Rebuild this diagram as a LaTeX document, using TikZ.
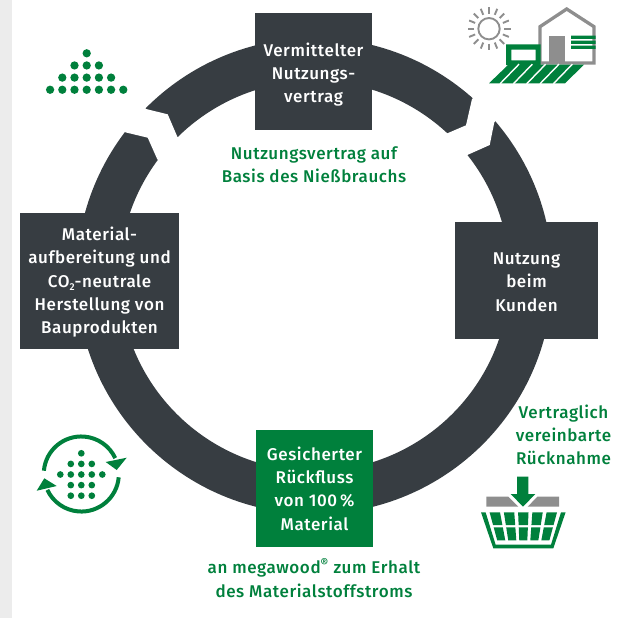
\documentclass[tikz,border=0pt]{standalone}
\usepackage{fontspec}
\setmainfont{Fira Sans}[LetterSpace=3,BoldFont={* Medium},BoldFeatures={LetterSpace=3.5}]
\definecolor{dk}{HTML}{373D42}
\definecolor{gn}{HTML}{00803C}
\definecolor{gy}{HTML}{8E8E8E}
\definecolor{strip}{HTML}{ECECEC}
\tikzset{
  x=1pt,y=-1pt,
  boxd/.style={fill=dk,text=white,align=center,font=\fontsize{17}{23.3}\selectfont\bfseries,inner sep=0pt,minimum width=#1},
  txtg/.style={text=gn,align=center,font=\fontsize{17}{23.3}\selectfont\bfseries,inner sep=0pt},
  dotl/.style={fill=gn,circle,inner sep=0pt,minimum size=8.3pt},
  dots/.style={fill=gn,circle,inner sep=0pt,minimum size=6.7pt},
}
\begin{document}
\begin{tikzpicture}
\useasboundingbox (0,0) rectangle (623,618);
\fill[strip] (0,0) rectangle (12,618);
% ring
\fill[dk,even odd rule] (314.5,276) circle[radius=238] (314.5,276) circle[radius=195];
% gaps
\fill[white] (146,109) -- (167.7,114.3) -- (177.3,136.7) -- (195,155) -- (175,177) -- (157.3,159.3) -- (147.7,137.7) -- (125.3,132.3) -- (112,118) -- (134,97) -- cycle;
\fill[white] (472,99) -- (466,125.3) -- (447.3,133.3) -- (434,148) -- (451.7,167) -- (467.3,155) -- (489.7,145) -- (494.3,122.3) -- (508,107) -- (486,86) -- cycle;
% boxes
\node[boxd=117pt,minimum height=117pt] (top) at (313.5,71.5) {\rule{0pt}{20pt}Vermittelter\\Nutzungs-\\vertrag};
\node[boxd=159pt,minimum height=136pt] (left) at (99.5,281) {\rule{0pt}{16pt}Material-\\aufbereitung und\\CO\raisebox{-3.5pt}{\fontsize{10}{10}\selectfont 2}-neutrale\\Herstellung von\\Bauprodukten};
\node[boxd=143pt,minimum height=117pt] (right) at (526.5,280.5) {\rule{0pt}{15pt}Nutzung\\beim\\Kunden};
\node[boxd=117pt,minimum height=117pt,fill=gn] (bot) at (314.5,488.5) {Gesicherter\\Rückfluss\\von 100\,\%\\Material};
\node[txtg] (t1) at (314,165) {Nutzungsvertrag auf\\Basis des Nießbrauchs};
\node[txtg] (t2) at (563.5,435) {Vertraglich\\vereinbarte\\Rücknahme};
\node[txtg] (t3) at (314,578) {an megawood\textsuperscript{®} zum Erhalt\\des Materialstoffstroms};
% dots triangle
\foreach \r/\n in {0/1,1/3,2/5,3/7}
  \foreach \i in {1,...,\n}
    \node[dotl] at ({86.7+(\i-(\n+1)/2)*12.2},{53.3+\r*12.15}) {};
% recycle icon
\foreach \y/\n in {0/1,1/3,2/5,3/3,4/3}
  \foreach \i in {1,...,\n}
    \node[dots] at ({81.3+(\i-(\n+1)/2)*10.5},{453.3+\y*10.6}) {};
\draw[gn,line width=4pt] (43.9,470.7) arc[start angle=-175,end angle=-25,radius=37.5];
\fill[gn] (105.7,462) -- (126.7,457.7) -- (116.7,470) -- cycle;
\draw[gn,line width=4pt] (118.7,477.3) arc[start angle=5,end angle=155,radius=37.5];
\fill[gn] (36.7,490.7) -- (44.3,478.3) -- (56.7,486) -- cycle;
% sun
\draw[gy,line width=1.9pt] (489,28.7) circle[radius=10.7];
\foreach \a in {0,22.5,...,337.5}
  \draw[gy,line width=1.9pt] ({489+15*cos(\a)},{28.7+15*sin(\a)}) -- ({489+21.5*cos(\a)},{28.7+21.5*sin(\a)});
% house
\draw[gy,line width=3.3pt,miter limit=4] (566.7,9) -- (594,26.7) -- (594,63) -- (540,63) -- (540,26.7) -- cycle;
\fill[gy] (549,36) rectangle (565,64);
\fill[gn] (571,35.7) rectangle (595.7,39) (571,40.7) rectangle (595.7,44) (571,45.7) rectangle (595.7,49);
% garden
\fill[gn,even odd rule] (506,44.3) rectangle (540.7,65) (511.3,49.7) rectangle (535.7,60.3);
\fill[gn] (489,83.3) -- (508.3,64.7) -- (584,64.7) -- (565,83.3) -- cycle;
\foreach \k in {0,...,4}
  \draw[white,line width=1.4pt] ({500+13.33*\k},83.8) -- ({519+13.33*\k},64.2);
% basket arrow
\fill[gn] (517,476.7) -- (528.3,476.7) -- (528.3,494) -- (535.3,494) -- (523,506.7) -- (510.7,494) -- (517,494) -- cycle;
\fill[gy] (486.3,496.7) -- (508.3,496.7) -- (518.3,506.7) -- (486.3,506.7) -- cycle;
\fill[gy] (537.3,496.7) -- (559,496.7) -- (559,506.7) -- (527.7,506.7) -- cycle;
% basket
\fill[gn] (481,512.3) -- (493.3,548.3) -- (553.3,548.3) -- (565.6,512.3) -- (561,512.3) -- (551,544.6) -- (495.6,544.6) -- (485.6,512.3) -- cycle;
\foreach \c in {-28.5,-14.25,0,14.25,28.5}
  \foreach \ya/\yb in {512.3/525,527.3/540.3}
    \fill[gn] ({523.3+(\c-5.2)*(1-(\ya-512.3)/36*0.29)},\ya) -- ({523.3+(\c+5.2)*(1-(\ya-512.3)/36*0.29)},\ya) -- ({523.3+(\c+5.2)*(1-(\yb-512.3)/36*0.29)},\yb) -- ({523.3+(\c-5.2)*(1-(\yb-512.3)/36*0.29)},\yb) -- cycle;
\end{tikzpicture}
\end{document}
